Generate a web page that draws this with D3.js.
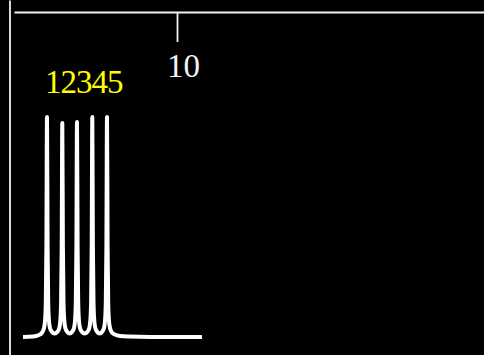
<!DOCTYPE html>
<html>
<head>
<meta charset="utf-8">
<script src="https://cdn.jsdelivr.net/npm/d3@7/dist/d3.min.js"></script>
<style>
html,body{margin:0;padding:0;background:#000;}
svg{display:block;background:#000;}
</style>
</head>
<body>
<svg id="chart" width="484" height="355"></svg>
<script>
// ---- data ----
const signalX = [0, 0.649, 1.039, 1.234, 1.364, 1.429, 1.481, 1.519, 1.558, 1.597, 1.636, 1.688, 1.753, 1.883,
  2.052, 2.227, 2.357, 2.422, 2.474, 2.513, 2.552, 2.591, 2.630, 2.682, 2.747, 2.877,
  3.026, 3.182, 3.312, 3.377, 3.429, 3.468, 3.506, 3.545, 3.584, 3.636, 3.701, 3.831,
  4.000, 4.175, 4.305, 4.370, 4.422, 4.461, 4.500, 4.539, 4.578, 4.630, 4.695, 4.825,
  4.974, 5.130, 5.260, 5.325, 5.377, 5.416, 5.455, 5.494, 5.532, 5.584, 5.649, 5.779,
  5.974, 6.299, 6.948, 8.247, 11.623];
const signalY = [0, 0.2, 0.9, 2.0, 4.1, 7.3, 15.9, 40.9, 100, 40.9, 15.9, 7.3, 4.1, 2.3,
  1.6, 2.3, 4.1, 7.3, 15.9, 40.9, 97.3, 40.9, 15.9, 7.3, 4.1, 2.3,
  1.6, 2.3, 4.1, 7.3, 15.9, 40.9, 97.7, 40.9, 15.9, 7.3, 4.1, 2.3,
  1.6, 2.3, 4.1, 7.3, 15.9, 40.9, 100, 40.9, 15.9, 7.3, 4.1, 2.3,
  1.6, 2.3, 4.1, 7.3, 15.9, 40.9, 100, 40.9, 15.9, 7.3, 4.1, 2.0,
  1.1, 0.5, 0.2, 0, 0];
const peakLabels = ["1", "2", "3", "4", "5"];
const peakX = [1.558, 2.552, 3.506, 4.500, 5.455];
const xTickValues = [10];

// ---- layout ----
const W = 484, H = 355;
const svg = d3.select("#chart");

const x = d3.scaleLinear().domain([0, 10]).range([23, 177]);
const y = d3.scaleLinear().domain([0, 100]).range([337, 117]);

// left vertical axis line
const yAxisScale = d3.scaleLinear().domain([0, 1]).range([0, H]);
svg.append("g")
  .attr("transform", "translate(9.5,0)")
  .call(d3.axisLeft(yAxisScale).tickValues([]).tickSizeOuter(0))
  .call(g => g.select(".domain").attr("stroke", "#f2f2f2").attr("stroke-width", 1.8));

// top axis
const xAxisScale = x.copy().domain([x.invert(14), x.invert(W + 2)]).range([14, W + 2]);
const xAxisG = svg.append("g")
  .attr("transform", "translate(0,12)")
  .call(d3.axisBottom(xAxisScale).tickValues(xTickValues).tickSize(30).tickSizeOuter(0).tickPadding(0))
  .call(g => g.select(".domain").attr("stroke", "#f2f2f2").attr("stroke-width", 1.8))
  .call(g => g.selectAll(".tick line").attr("stroke", "#f2f2f2").attr("stroke-width", 1.8));
xAxisG.selectAll(".tick text")
  .attr("fill", "#f4f4f4")
  .attr("font-family", "'Liberation Serif', serif")
  .attr("font-size", 33)
  .attr("dy", null)
  .attr("y", 65)
  .attr("dx", 6)
  .attr("text-anchor", "middle");

// signal line
const line = d3.line()
  .x((d, i) => x(signalX[i]))
  .y((d, i) => y(signalY[i]))
  .curve(d3.curveMonotoneX);
svg.append("path")
  .datum(signalY)
  .attr("d", line)
  .attr("fill", "none")
  .attr("stroke", "#ffffff")
  .attr("stroke-width", 4)
  .attr("stroke-linejoin", "round")
  .attr("stroke-linecap", "butt");

// peak labels (one run of digits starting above the first peak)
svg.append("text")
  .attr("x", x(peakX[0]) - 2)
  .attr("y", 93)
  .attr("fill", "#ffff00")
  .attr("font-family", "'Liberation Serif', serif")
  .attr("font-size", 33)
  .attr("letter-spacing", -1)
  .text(peakLabels.join(""));
</script>
</body>
</html>
